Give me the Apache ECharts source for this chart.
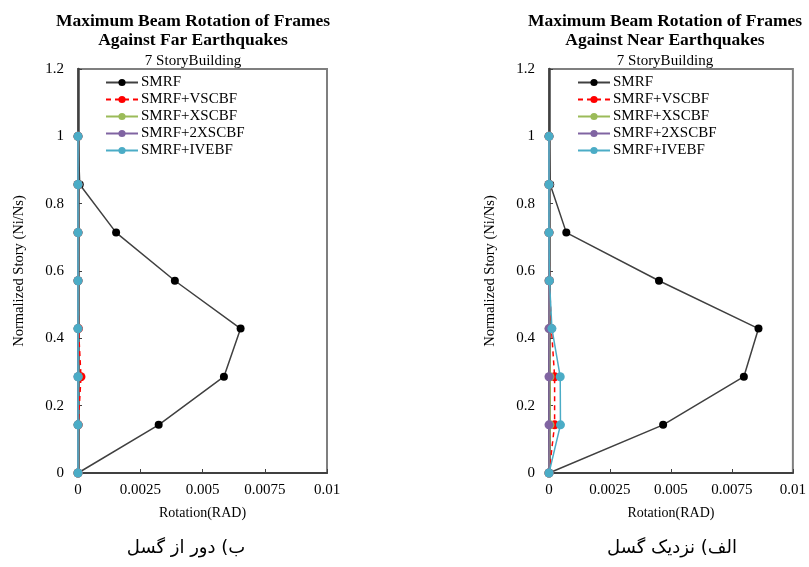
<!DOCTYPE html>
<html>
<head>
<meta charset="utf-8">
<script src="https://cdn.jsdelivr.net/npm/echarts@6/dist/echarts.min.js"></script>
<style>
  html, body { margin: 0; padding: 0; background: #fff; }
  #chart { width: 809px; height: 567px; }
</style>
</head>
<body>
<div id="chart"></div>
<script>
// Normalized story levels (Ni/Ns) for the 7-story frame
const storyLevels = [0, 0.143, 0.286, 0.429, 0.571, 0.714, 0.857, 1.0];

// Maximum beam rotation (rad), far-field records
const farSMRF     = [0, 0.00324, 0.00586, 0.00653, 0.00389, 0.00153, 0.00007, 0];
const farVSCBF    = [0, 0.00001, 0.00012, 0.00002, 0, 0, 0, 0];
const farXSCBF    = [0, 0, 0.00001, 0, 0, 0, 0, 0];
const far2XSCBF   = [0, 0, 0, 0, 0, 0, 0, 0];
const farIVEBF    = [0, 0, 0, 0, 0, 0, 0, 0];

// Maximum beam rotation (rad), near-field records
const nearSMRF    = [0, 0.00468, 0.00799, 0.00859, 0.00451, 0.00071, 0.00005, 0];
const nearVSCBF   = [0, 0.00023, 0.00023, 0.0001, 0.00002, 0, 0, 0];
const nearXSCBF   = [0, 0.00004, 0.00004, 0.00001, 0, 0, 0, 0];
const near2XSCBF  = [0, 0, 0, 0, 0, 0, 0, 0];
const nearIVEBF   = [0, 0.00047, 0.00046, 0.00012, 0.00002, 0, 0, 0];

const seriesNames = ['SMRF', 'SMRF+VSCBF', 'SMRF+XSCBF', 'SMRF+2XSCBF', 'SMRF+IVEBF'];
const xTickLabels = ['0', '0.0025', '0.005', '0.0075', '0.01'];
const yTickLabels = ['0', '0.2', '0.4', '0.6', '0.8', '1', '1.2'];

const serif = '"Liberation Serif", "Times New Roman", serif';
const styles = [
  { line: '#404040', mark: '#000000', type: 'solid' },
  { line: '#ff0000', mark: '#ff0000', type: [5, 4] },
  { line: '#9bbb59', mark: '#9bbb59', type: 'solid' },
  { line: '#8064a2', mark: '#8064a2', type: 'solid' },
  { line: '#4bacc6', mark: '#4bacc6', type: 'solid' }
];

function pairs(values) {
  return values.map((v, i) => [v, storyLevels[i]]);
}

function makeSeries(sets, axisIndex) {
  return sets.map((vals, k) => ({
    name: seriesNames[k],
    type: 'line',
    xAxisIndex: axisIndex,
    yAxisIndex: axisIndex,
    data: pairs(vals),
    symbol: 'circle',
    symbolSize: k === 0 ? 8 : 9,
    lineStyle: { color: styles[k].line, width: 1.5, type: styles[k].type },
    itemStyle: { color: styles[k].mark },
    emphasis: { disabled: true },
    z: 2 + k
  }));
}

function xAxis(gridIndex) {
  return {
    gridIndex, type: 'value', min: 0, max: 0.01, interval: 0.0025,
    name: 'Rotation(RAD)', nameLocation: 'middle', nameGap: 33,
    nameTextStyle: { fontFamily: serif, fontSize: 14, color: '#000' },
    axisLine: { lineStyle: { color: '#404040', width: 2 } },
    axisTick: { inside: true, length: 4, lineStyle: { color: '#404040' } },
    axisLabel: {
      fontFamily: serif, fontSize: 15, color: '#000', margin: 10,
      formatter: v => xTickLabels[Math.round(v / 0.0025)]
    },
    splitLine: { show: false }
  };
}

function yAxis(gridIndex) {
  return {
    gridIndex, type: 'value', min: 0, max: 1.2, interval: 0.2,
    name: 'Normalized Story (Ni/Ns)', nameLocation: 'middle', nameGap: 51,
    nameTextStyle: { fontFamily: serif, fontSize: 14.5, color: '#000' },
    axisLine: { lineStyle: { color: '#404040', width: 2.5 } },
    axisTick: { inside: true, length: 4, lineStyle: { color: '#404040' } },
    axisLabel: {
      fontFamily: serif, fontSize: 15, color: '#000', margin: 14,
      formatter: v => yTickLabels[Math.round(v / 0.2)]
    },
    splitLine: { show: false }
  };
}

function legend(left) {
  return {
    data: seriesNames, orient: 'vertical', left, top: 75, padding: 0,
    itemWidth: 32, itemHeight: 9, itemGap: 2,
    selectedMode: false,
    textStyle: { fontFamily: serif, fontSize: 15, color: '#000', padding: [0, 0, 0, -2] }
  };
}

function title(center, second) {
  return {
    text: 'Maximum Beam Rotation of Frames\n' + second,
    subtext: '7 StoryBuilding',
    left: center, top: 12, textAlign: 'center', itemGap: 3, padding: 0,
    textStyle: { fontFamily: serif, fontSize: 17.5, fontWeight: 'bold', color: '#000', lineHeight: 19 },
    subtextStyle: { fontFamily: serif, fontSize: 15, color: '#000', lineHeight: 16 }
  };
}

const chart = echarts.init(document.getElementById('chart'));
chart.setOption({
  animation: false,
  backgroundColor: '#fff',
  title: [title(193, 'Against Far Earthquakes'), title(665, 'Against Near Earthquakes')],
  legend: [legend(105), legend(577)],
  grid: [
    { left: 78, width: 249, top: 69, height: 404, show: true, borderColor: '#7f7f7f', borderWidth: 2 },
    { left: 549, width: 250, top: 69, height: 404, show: true, borderColor: '#7f7f7f', borderWidth: 2 }
  ],
  xAxis: [xAxis(0), xAxis(1)],
  yAxis: [yAxis(0), yAxis(1)],
  series: [
    ...makeSeries([farSMRF, farVSCBF, farXSCBF, far2XSCBF, farIVEBF], 0),
    ...makeSeries([nearSMRF, nearVSCBF, nearXSCBF, near2XSCBF, nearIVEBF], 1)
  ],
  graphic: [
    { type: 'text', x: 186, y: 548,
      style: { text: 'ب) دور از گسل', font: '18px "DejaVu Sans", sans-serif', fill: '#000',
               align: 'center', verticalAlign: 'middle' } },
    { type: 'text', x: 672, y: 548,
      style: { text: 'الف) نزدیک گسل', font: '18px "DejaVu Sans", sans-serif', fill: '#000',
               align: 'center', verticalAlign: 'middle' } }
  ]
});
</script>
</body>
</html>
